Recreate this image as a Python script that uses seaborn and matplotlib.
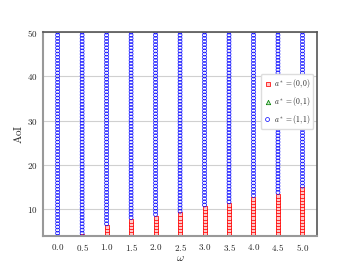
import numpy as np
import pandas as pd
import matplotlib
matplotlib.use("Agg")
import matplotlib.pyplot as plt
import seaborn as sns

# weight values (x) and the AoI level below which action (0,0) is optimal
omega = [0.0, 0.5, 1.0, 1.5, 2.0, 2.5, 3.0, 3.5, 4.0, 4.5, 5.0]
threshold = [0.0, 4.3, 6.4, 7.5, 8.5, 9.5, 10.5, 11.5, 12.5, 13.5, 14.5]
aoi_grid = np.linspace(1, 50, 70)
x_ticks = [0.0, 0.5, 1.0, 1.5, 2.0, 2.5, 3.0, 3.5, 4.0, 4.5, 5.0]
y_ticks = [10, 20, 30, 40, 50]

rows = []
for w, th in zip(omega, threshold):
    for a in aoi_grid:
        rows.append({"omega": w, "aoi": a, "action": "(0,0)" if a <= th else "(1,1)"})
df = pd.DataFrame(rows)

sns.set_style("white")
plt.rcParams["mathtext.fontset"] = "cm"
plt.rcParams["font.family"] = ["DejaVu Serif"]

fig = plt.figure(figsize=(3.52, 2.65), dpi=100)
ax = fig.add_axes([0.122, 0.109, 0.779, 0.770])

sub = df[df.action == "(0,0)"]
sns.scatterplot(data=sub, x="omega", y="aoi", marker="s", s=10, facecolor="#ffc8c8",
                edgecolor="red", linewidth=0.55, ax=ax, label=r"$a^*=(0,0)$")
ax.scatter([], [], marker="^", s=10, facecolor="#c8e8c8", edgecolor="green",
           linewidth=0.55, label=r"$a^*=(0,1)$")
sub = df[df.action == "(1,1)"]
sns.scatterplot(data=sub, x="omega", y="aoi", marker="o", s=8, facecolor="none",
                edgecolor="blue", linewidth=0.5, ax=ax, label=r"$a^*=(1,1)$")

ax.set_xlim(-0.3, 5.3)
ax.set_ylim(3.9, 50)
ax.set_xticks(x_ticks)
ax.set_xticklabels([f"${v:.1f}$" for v in x_ticks], fontsize=6.5)
ax.set_yticks(y_ticks)
ax.set_yticklabels([f"${v}$" for v in y_ticks], fontsize=6.5)
ax.set_xlabel(r"$\omega$", fontsize=8, labelpad=0)
ax.set_ylabel(r"$\mathrm{AoI}$", fontsize=8, labelpad=2)
ax.yaxis.grid(True, color="#d0d0d0", linewidth=0.8)
ax.set_axisbelow(True)
ax.tick_params(axis="both", direction="out", length=3, width=0.6, color="#333333", pad=1)
for side in ["left", "bottom"]:
    ax.spines[side].set_color("#999999")
    ax.spines[side].set_linewidth(1.5)
for side in ["top", "right"]:
    ax.spines[side].set_color("#555555")
    ax.spines[side].set_linewidth(1.2)

leg = ax.legend(loc="center right", bbox_to_anchor=(1.0, 0.66), fontsize=5.5,
                markerscale=1.0, handletextpad=0.3, borderpad=0.4, labelspacing=0.6,
                handlelength=1.0, framealpha=1.0, edgecolor="#dddddd")

fig.savefig("out.png", dpi=100)
